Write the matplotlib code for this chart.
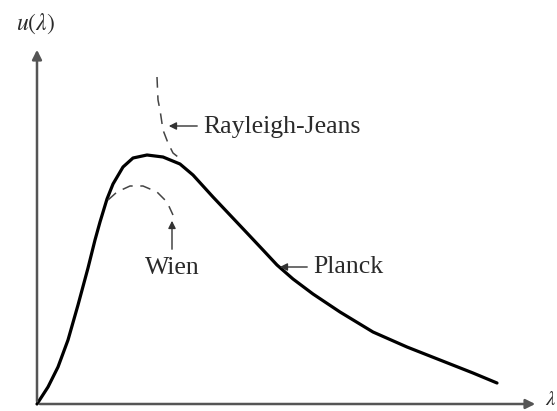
import numpy as np
import matplotlib
matplotlib.use('Agg')
import matplotlib.pyplot as plt

plt.rcParams['font.family'] = ['Liberation Serif', 'DejaVu Serif']
plt.rcParams['mathtext.fontset'] = 'stix'

# values (arbitrary units, origin at the axes corner)
planckLam = [0, 11, 21, 31, 41, 51, 58, 63, 70, 76, 86, 96, 110, 126, 143, 156, 176,
             193, 210, 226, 240, 256, 276, 303, 336, 370, 403, 436, 460]
planckU = [0, 17, 37, 64, 99, 136, 164, 182, 205, 220, 237, 246, 249, 247, 240, 229, 207,
           189, 171, 154, 139, 125, 110, 92, 72, 57, 44, 31, 21]

wienLam = [71, 80, 93, 106, 120, 130, 136]
wienU = [204, 212, 218, 218, 212, 202, 189]

rjLam = [120, 121, 123, 126, 131, 136, 141]
rjU = [327, 304, 294, 274, 261, 251, 247]

labels = ['Rayleigh-Jeans', 'Wien', 'Planck']

fig = plt.figure(figsize=(5.57, 4.11), dpi=100)
ax = fig.add_axes([0, 0, 1, 1])
ax.set_xlim(-37, 520)
ax.set_ylim(-7, 404)
ax.axis('off')

txtColor = '#2a2a2a'

# axes with arrows
ax.annotate('', xy=(0, 357), xytext=(0, 0),
            arrowprops=dict(arrowstyle='-|>', color='#555555', lw=1.8, mutation_scale=14))
ax.annotate('', xy=(501, 0), xytext=(0, 0),
            arrowprops=dict(arrowstyle='-|>', color='#555555', lw=1.8, mutation_scale=14))
ax.text(-1, 380, r'$u(\lambda)$', fontsize=17, ha='center', va='center', color=txtColor)
ax.text(508, -6, r'$\lambda$', fontsize=15, ha='left', va='bottom', color=txtColor)

# curves
ax.plot(planckLam, planckU, color='black', lw=2.3, solid_capstyle='round',
        solid_joinstyle='round')
ax.plot(wienLam, wienU, color='#444444', lw=1.1, linestyle=(0, (7, 5)))
ax.plot(rjLam, rjU, color='#444444', lw=1.1, linestyle=(0, (7, 5)))

# labels with pointers
arrowKw = dict(arrowstyle='-|>', color='#333333', lw=1.0, mutation_scale=11)
ax.annotate('', xy=(129, 278), xytext=(163, 278), arrowprops=arrowKw)
ax.text(166, 277, labels[0], fontsize=18.5, ha='left', va='center', color=txtColor)

ax.annotate('', xy=(135, 186), xytext=(135, 152), arrowprops=arrowKw)
ax.text(135, 136, labels[1], fontsize=18.5, ha='center', va='center', color=txtColor)

ax.annotate('', xy=(240, 137), xytext=(273, 137), arrowprops=arrowKw)
ax.text(276, 137, labels[2], fontsize=18.5, ha='left', va='center', color=txtColor)

fig.savefig('out.png', dpi=100)
